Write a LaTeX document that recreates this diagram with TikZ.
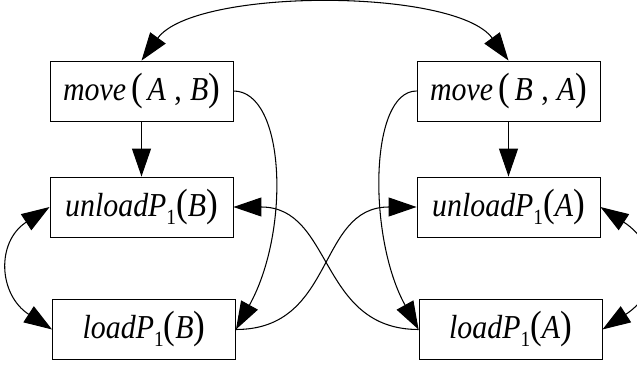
\documentclass[tikz,border=0pt]{standalone}
\usepackage{fontspec}
\setmainfont{Liberation Serif}
\usetikzlibrary{arrows.meta}

% taller parentheses and a low index, as in the labels
\newcommand{\lpar}{{\fontsize{20}{20}\selectfont\upshape(}}
\newcommand{\rpar}{{\fontsize{20}{20}\selectfont\upshape)}}
\newcommand{\idx}[1]{\raisebox{-4pt}{\fontsize{11}{11}\selectfont\upshape #1}}
\newcommand{\lbl}[1]{\scalebox{1}[1.12]{#1}}

\tikzset{
  act/.style={draw, line width=0.5pt, minimum width=3.66cm, minimum height=1.2cm,
    inner sep=0pt, font=\fontsize{17}{20}\selectfont\itshape},
  link/.style={line width=0.6pt, -{Triangle[length=0.56cm,width=0.38cm]}},
  twoway/.style={line width=0.6pt,
    {Triangle[length=0.56cm,width=0.38cm]}-{Triangle[length=0.56cm,width=0.38cm]}},
}

\begin{document}
\begin{tikzpicture}
        \clip (0,0) rectangle (12.74,-7.34);

         % side B
        \node[act] (mab) at (2.83,-1.82) {\lbl{move\,\lpar\,A\;\textup{,}\;B\rpar}};
        \node[act] (ub) at (2.83,-4.14) {\lbl{unloadP\idx{1}\lpar B\rpar}};
        \node[act] (lb) at (2.88,-6.59) {\lbl{loadP\idx{1}\lpar B\rpar}};

         % side A
        \node[act] (mba) at (10.17,-1.82) {\lbl{move\,\lpar\,B\;\textup{,}\;A\rpar}};
        \node[act] (ua) at (10.17,-4.14) {\lbl{unloadP\idx{1}\lpar A\rpar}};
        \node[act] (la) at (10.21,-6.59) {\lbl{loadP\idx{1}\lpar A\rpar}};

         % moves
        \draw[twoway] (mab.north) .. controls +(54:1.8) and +(126:1.8) .. (mba.north);
        \draw[link] (mab.south) -- (ub.north);
        \draw[link] (mba.south) -- (ua.north);
        \draw[link] (mab.east) .. controls +(0:1.04) and +(61:2.26) .. (lb.east);
        \draw[link] (mba.west) .. controls +(180:0.95) and +(119:2.1) .. (la.west);

         % load / unload
        \draw[twoway] (ub.west) .. controls +(213:1.28) and +(147:1.28) .. (lb.west);
        \draw[twoway] (ua.east) .. controls +(-33:1.4) and +(33:1.4) .. (la.east);
        \draw[link] (lb.east) .. controls +(0:2) and +(180:2) .. (ua.west);
        \draw[link] (la.west) .. controls +(180:2) and +(0:2) .. (ub.east);
      \end{tikzpicture}
\end{document}
